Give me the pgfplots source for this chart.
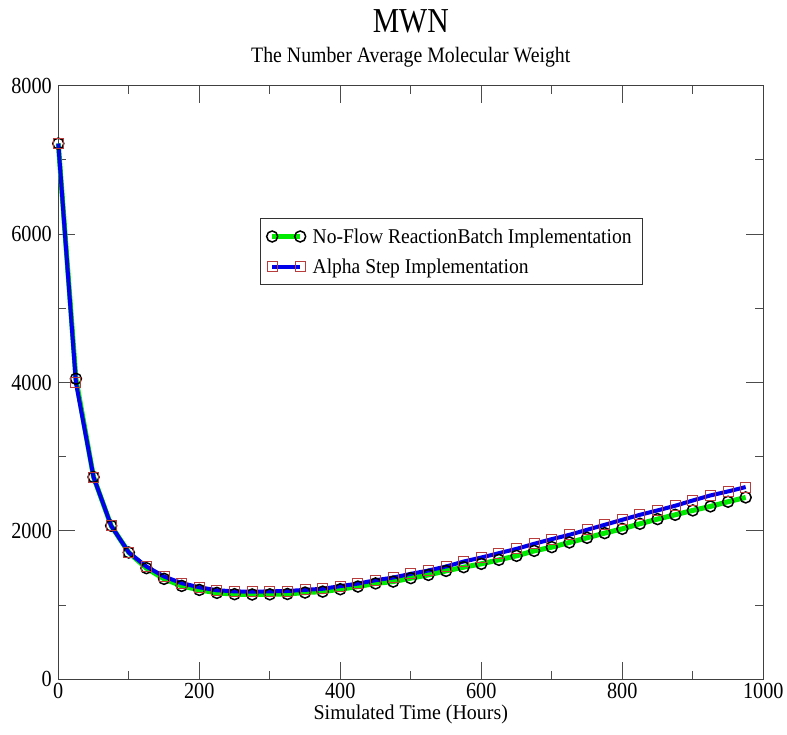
\documentclass[border=0pt]{standalone}
\usepackage{fontspec}
\setmainfont{Liberation Serif}[FakeStretch=0.88]
\newfontfamily\labfont{Liberation Serif}[FakeStretch=0.95]
\newfontfamily\legfont{Liberation Serif}[FakeStretch=0.93]
\newfontfamily\titfont{Liberation Serif}[FakeStretch=0.85]
\newfontfamily\subfont{Liberation Serif}[FakeStretch=0.9]
\usepackage{pgfplots}
\usepackage{pgfplotstable}
\pgfplotsset{compat=1.18}
\definecolor{sqred}{RGB}{185,60,60}
\definecolor{lgreen}{RGB}{0,235,0}
\definecolor{lblue}{RGB}{0,0,235}

\pgfplotstableread{
x y
0 7220
25 4050
50 2726
75 2069
100 1709
125 1498
150 1354
175 1259
200 1205
225 1165
250 1147
275 1143
300 1145
325 1150
350 1169
375 1182
400 1214
425 1250
450 1292
475 1317
500 1363
525 1407
550 1461
575 1511
600 1556
625 1610
650 1664
675 1731
700 1781
725 1844
750 1907
775 1970
800 2028
825 2096
850 2159
875 2217
900 2276
925 2330
950 2393
975 2451
}\nfdata

\pgfplotstableread{
x y
0 7220
25 4000
50 2726
75 2069
100 1709
125 1520
150 1385
175 1296
200 1240
225 1200
250 1185
275 1180
300 1185
325 1190
350 1205
375 1220
400 1255
425 1290
450 1335
475 1371
500 1421
525 1466
550 1520
575 1587
600 1641
625 1700
650 1758
675 1826
700 1889
725 1947
750 2015
775 2082
800 2150
825 2217
850 2276
875 2339
900 2410
925 2478
950 2532
975 2591
}\asdata

\begin{document}
\begin{tikzpicture}
\path[use as bounding box] (-58.3bp,-55.7bp) rectangle (728.7bp,679.3bp);
\begin{axis}[
  scale only axis, width=705bp, height=593.6bp,
  xmin=0, xmax=1000, ymin=0, ymax=8000,
  xtick={0,200,...,1000}, ytick={0,2000,...,8000},
  minor xtick={100,300,...,900}, minor ytick={1000,3000,5000,7000},
  tick align=inside, major tick length=17bp, minor tick length=8bp,
  every tick/.style={black!70, line width=0.8bp},
  axis line style={black!75, line width=1.2bp},
  clip=false,
  /pgf/number format/assume math mode=true,
  /pgf/number format/1000 sep={},
  scaled ticks=false,
  tick label style={font=\fontsize{23bp}{25bp}\selectfont},
  yticklabel style={xshift=-3bp},
  xlabel={Simulated Time (Hours)},
  xlabel style={font=\labfont\fontsize{21bp}{24bp}\selectfont},
  legend style={at={(0.2865,0.777)}, anchor=north west, draw=black!80,
    line width=0.8bp, font=\legfont\fontsize{21bp}{24bp}\selectfont,
    cells={anchor=west}, inner xsep=6bp, inner ysep=8bp, row sep=10bp},
  legend image code/.code={\draw[#1] plot coordinates {(0bp,0bp) (28bp,0bp)};},
]
\addplot[lgreen, line width=5bp, mark=o, mark size=5.5bp,
  mark options={black, line width=1.5bp, solid}] table {\nfdata};
\addlegendentry{\hspace*{5bp}No-Flow ReactionBatch Implementation\hspace*{3bp}}
\addplot[lblue, line width=4bp, mark=square, mark size=5bp,
  mark options={draw=sqred, line width=1bp, solid}] table {\asdata};
\addlegendentry{\hspace*{5bp}Alpha Step Implementation}
\node[font=\titfont\fontsize{35bp}{38bp}\selectfont, anchor=base] at (rel axis cs:0.5,1) [yshift=53bp] {MWN};
\node[font=\subfont\fontsize{22bp}{25bp}\selectfont, anchor=base] at (rel axis cs:0.5,1) [yshift=23bp] {The Number Average Molecular Weight};
\end{axis}
\end{tikzpicture}
\end{document}
